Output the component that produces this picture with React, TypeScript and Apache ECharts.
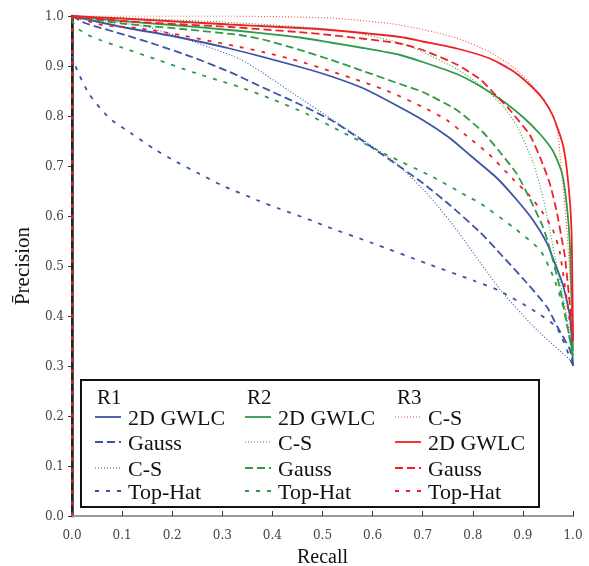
import React, { useEffect, useRef } from "react";
import * as echarts from "echarts";

// [recall, precision] pairs
const r1GWLC = [[0, 1], [0.1, 0.978], [0.2, 0.96], [0.315, 0.935], [0.455, 0.898], [0.515, 0.88], [0.58, 0.856], [0.635, 0.828], [0.7, 0.792], [0.754, 0.756], [0.794, 0.722], [0.848, 0.676], [0.888, 0.632], [0.92, 0.592], [0.948, 0.546], [0.962, 0.51], [0.98, 0.462], [0.994, 0.398], [1.0, 0.3]];
const r1Gauss = [[0, 1], [0.026, 0.986], [0.106, 0.962], [0.17, 0.942], [0.24, 0.918], [0.315, 0.888], [0.381, 0.857], [0.449, 0.826], [0.515, 0.793], [0.56, 0.764], [0.635, 0.712], [0.7, 0.666], [0.754, 0.622], [0.814, 0.568], [0.848, 0.532], [0.908, 0.466], [0.948, 0.418], [0.968, 0.38], [0.994, 0.332], [1.0, 0.3]];
const r1CS = [[0, 1], [0.15, 0.978], [0.25, 0.946], [0.335, 0.914], [0.381, 0.886], [0.449, 0.84], [0.515, 0.796], [0.581, 0.752], [0.649, 0.704], [0.715, 0.638], [0.768, 0.572], [0.814, 0.508], [0.86, 0.446], [0.928, 0.372], [0.994, 0.312], [1.0, 0.3]];
const r1TopHat = [[0, 0.92], [0.01, 0.892], [0.034, 0.844], [0.074, 0.796], [0.12, 0.764], [0.164, 0.734], [0.209, 0.708], [0.255, 0.684], [0.302, 0.66], [0.369, 0.632], [0.415, 0.614], [0.481, 0.59], [0.505, 0.58], [0.599, 0.546], [0.711, 0.504], [0.804, 0.47], [0.85, 0.452], [0.92, 0.412], [0.968, 0.376], [1.0, 0.3]];

const r2GWLC = [[0, 1], [0.1, 0.99], [0.2, 0.982], [0.315, 0.972], [0.455, 0.957], [0.515, 0.947], [0.581, 0.936], [0.655, 0.922], [0.7, 0.908], [0.768, 0.884], [0.814, 0.86], [0.86, 0.83], [0.9, 0.798], [0.934, 0.764], [0.96, 0.73], [0.978, 0.686], [0.988, 0.618], [0.994, 0.538], [1.0, 0.33]];
const r2CS = [[0, 1], [0.3, 0.988], [0.5, 0.975], [0.569, 0.966], [0.655, 0.946], [0.7, 0.928], [0.768, 0.894], [0.82, 0.858], [0.86, 0.82], [0.888, 0.78], [0.92, 0.708], [0.94, 0.638], [0.954, 0.572], [0.964, 0.518], [0.988, 0.398], [1.0, 0.31]];
const r2Gauss = [[0, 1], [0.1, 0.985], [0.23, 0.973], [0.335, 0.962], [0.381, 0.953], [0.449, 0.934], [0.515, 0.913], [0.581, 0.89], [0.649, 0.866], [0.7, 0.848], [0.768, 0.812], [0.82, 0.768], [0.854, 0.728], [0.888, 0.684], [0.914, 0.634], [0.94, 0.578], [0.954, 0.534], [0.975, 0.45], [1.0, 0.32]];
const r2TopHat = [[0, 0.99], [0.01, 0.976], [0.032, 0.962], [0.056, 0.952], [0.102, 0.936], [0.172, 0.912], [0.24, 0.888], [0.309, 0.866], [0.335, 0.858], [0.401, 0.833], [0.469, 0.804], [0.535, 0.77], [0.629, 0.722], [0.72, 0.678], [0.788, 0.64], [0.814, 0.626], [0.88, 0.578], [0.934, 0.532], [0.96, 0.48], [0.98, 0.42], [1.0, 0.32]];

const r3CS = [[0, 1], [0.3, 1.0], [0.515, 0.996], [0.635, 0.985], [0.7, 0.973], [0.768, 0.956], [0.834, 0.928], [0.88, 0.898], [0.914, 0.866], [0.94, 0.836], [0.96, 0.802], [0.97, 0.762], [0.976, 0.7], [0.982, 0.64], [0.988, 0.57], [1.0, 0.38]];
const r3GWLC = [[0, 1], [0.1, 0.995], [0.315, 0.983], [0.455, 0.976], [0.515, 0.972], [0.655, 0.958], [0.7, 0.949], [0.768, 0.935], [0.834, 0.915], [0.88, 0.89], [0.914, 0.862], [0.94, 0.834], [0.96, 0.8], [0.98, 0.742], [0.99, 0.672], [0.997, 0.572], [1.0, 0.35]];
const r3Gauss = [[0, 1], [0.1, 0.99], [0.315, 0.978], [0.449, 0.968], [0.515, 0.962], [0.649, 0.946], [0.7, 0.932], [0.768, 0.903], [0.814, 0.874], [0.84, 0.848], [0.874, 0.812], [0.9, 0.78], [0.914, 0.762], [0.934, 0.718], [0.954, 0.664], [0.968, 0.606], [0.978, 0.552], [0.984, 0.518], [1.0, 0.36]];
const r3TopHat = [[0, 0], [0, 1], [0.06, 0.982], [0.13, 0.976], [0.216, 0.962], [0.28, 0.949], [0.335, 0.938], [0.381, 0.928], [0.449, 0.911], [0.515, 0.89], [0.581, 0.868], [0.635, 0.848], [0.7, 0.818], [0.748, 0.792], [0.788, 0.76], [0.834, 0.722], [0.88, 0.674], [0.914, 0.64], [0.94, 0.606], [0.96, 0.572], [0.974, 0.526], [1.0, 0.34]];

const groups = ["R1", "R2", "R3"];
const BLUE = "#3b55a5";
const GREEN = "#2f9a48";
const RED = "#ee2225";

const STY: any = {
  solid: { type: "solid", width: 1.8 },
  long: { type: [8, 4], width: 1.8 },
  dot: { type: [1, 2], width: 1.1 },
  short: { type: [4, 7], width: 1.8 },
};

const seriesDefs = [
  { group: 0, name: "2D GWLC", data: r1GWLC, color: BLUE, sty: "solid" },
  { group: 0, name: "Gauss", data: r1Gauss, color: BLUE, sty: "long" },
  { group: 0, name: "C-S", data: r1CS, color: BLUE, sty: "dot" },
  { group: 0, name: "Top-Hat", data: r1TopHat, color: BLUE, sty: "short" },
  { group: 1, name: "2D GWLC", data: r2GWLC, color: GREEN, sty: "solid" },
  { group: 1, name: "C-S", data: r2CS, color: GREEN, sty: "dot" },
  { group: 1, name: "Gauss", data: r2Gauss, color: GREEN, sty: "long" },
  { group: 1, name: "Top-Hat", data: r2TopHat, color: GREEN, sty: "short" },
  { group: 2, name: "C-S", data: r3CS, color: "#f04a4a", sty: "dot" },
  { group: 2, name: "2D GWLC", data: r3GWLC, color: RED, sty: "solid" },
  { group: 2, name: "Gauss", data: r3Gauss, color: RED, sty: "long" },
  { group: 2, name: "Top-Hat", data: r3TopHat, color: RED, sty: "short" },
];

const SERIF = "Liberation Serif";
const TICKFONT = "DejaVu Serif";

function buildLegend(): any[] {
  const box = { x: 81, y: 380, w: 458, h: 127 };
  const colX = [95, 245, 395];
  const rowY = [417, 442, 468, 491];
  const els: any[] = [
    {
      type: "rect",
      shape: { x: box.x, y: box.y, width: box.w, height: box.h },
      style: { fill: "#fff", stroke: "#111", lineWidth: 2 },
      z: 100,
    },
  ];
  groups.forEach((g, gi) => {
    els.push({
      type: "text",
      x: colX[gi] + 2,
      y: 386,
      style: { text: g, fontFamily: SERIF, fontSize: 21, fill: "#111" },
      z: 101,
    });
    seriesDefs
      .filter((s) => s.group === gi)
      .forEach((s, k) => {
        const st = STY[s.sty];
        els.push({
          type: "line",
          shape: { x1: colX[gi], y1: rowY[k], x2: colX[gi] + 26, y2: rowY[k] },
          style: {
            stroke: s.color,
            lineWidth: st.width,
            lineDash: Array.isArray(st.type) ? st.type : null,
          },
          z: 101,
        });
        els.push({
          type: "text",
          x: colX[gi] + 33,
          y: rowY[k] - 11,
          style: { text: s.name, fontFamily: SERIF, fontSize: 22, fill: "#111" },
          z: 101,
        });
      });
  });
  return els;
}

export default function App() {
  const ref = useRef<HTMLDivElement>(null);
  useEffect(() => {
    if (!ref.current) return;
    const chart = echarts.init(ref.current, undefined, { renderer: "svg" });
    chart.setOption({
      animation: false,
      grid: { left: 72, right: 16, top: 16, bottom: 50, outerBoundsMode: "none", containLabel: false },
      xAxis: [
        {
          type: "value",
          min: 0,
          max: 1,
          interval: 0.1,
          name: "Recall",
          nameLocation: "middle",
          nameGap: 24,
          nameTextStyle: { fontFamily: SERIF, fontSize: 20, color: "#111" },
          axisLine: { show: true, lineStyle: { color: "#222", width: 2 } },
          axisTick: { show: true, inside: true, length: 5, lineStyle: { color: "#333" } },
          axisLabel: {
            fontFamily: TICKFONT,
            fontSize: 12,
            color: "#444",
            margin: 13,
            formatter: (v: number) => v.toFixed(1),
          },
          splitLine: { show: false },
        },
        {
          type: "value",
          position: "top",
          min: 0,
          max: 1,
          axisLine: { show: true, lineStyle: { color: "#999", width: 2 } },
          axisTick: { show: false },
          axisLabel: { show: false },
          splitLine: { show: false },
        },
      ],
      yAxis: [
        {
          type: "value",
          min: 0,
          max: 1,
          interval: 0.1,
          name: "P\u0304recision",
          nameLocation: "middle",
          nameGap: 40,
          nameTextStyle: { fontFamily: SERIF, fontSize: 21, color: "#111" },
          axisLine: { show: true, lineStyle: { color: "#555", width: 3 } },
          axisTick: { show: true, inside: false, length: 4, lineStyle: { color: "#333" } },
          axisLabel: {
            fontFamily: TICKFONT,
            fontSize: 12,
            color: "#444",
            margin: 8,
            formatter: (v: number) => v.toFixed(1),
          },
          splitLine: { show: false },
        },
        {
          type: "value",
          position: "right",
          min: 0,
          max: 1,
          axisLine: { show: true, lineStyle: { color: "#222", width: 2 } },
          axisTick: { show: false },
          axisLabel: { show: false },
          splitLine: { show: false },
        },
      ],
      series: seriesDefs.map((s) => ({
        type: "line",
        name: `${groups[s.group]} ${s.name}`,
        xAxisIndex: 0,
        yAxisIndex: 0,
        data: s.data,
        showSymbol: false,
        symbol: "none",
        smooth: 0.2,
        lineStyle: { color: s.color, width: STY[s.sty].width, type: STY[s.sty].type },
        z: 3,
      })),
      graphic: buildLegend(),
    });
    return () => chart.dispose();
  }, []);
  return <div ref={ref} style={{ position: "fixed", left: 0, top: 0, width: 589, height: 566 }} />;
}
